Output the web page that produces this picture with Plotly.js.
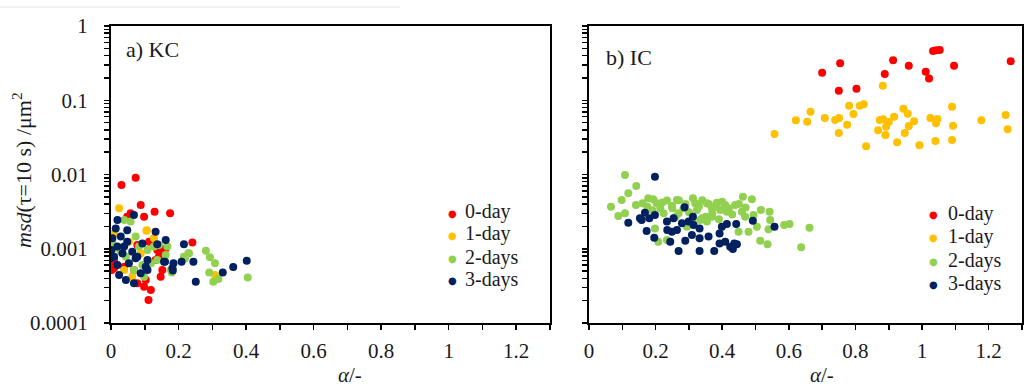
<!DOCTYPE html>
<html>
<head>
<meta charset="utf-8">
<script src="https://cdn.plot.ly/plotly-3.0.1.min.js"></script>
<style>html,body{margin:0;padding:0;background:#fff;}#chart{width:1035px;height:389px;}</style>
</head>
<body>
<div id="chart"></div>
<script>
// ---------- Data ----------
const seriesNames = ["0-day", "1-day", "2-days", "3-days"];
const seriesColors = ["#FF0000", "#FFC000", "#92D050", "#002060"];

// a) KC
const kc_day0_x = [0.031,0.073,0.088,0.129,0.175,0.098,0.058,0.241,0.111,0.118,0.098,0.078,0.009,0.002,0.147,0.152,0.142,0.137,0.162,0.078,0.009,0.039,0.003,0.048,0.113,0.152,0.132,0.068,0.103];
const kc_day0_y = [0.00722,0.00906,0.00388,0.00316,0.00300,0.00270,0.00300,0.00121,0.000204,0.000278,0.000308,0.000342,0.000546,0.000518,0.000421,0.000518,0.000781,0.000962,0.00101,0.00112,0.000705,0.000573,0.000636,0.00270,0.00124,0.000912,0.000705,0.000518,0.000379];

const kc_day1_x = [0.024,0.105,0.002,0.039,0.053,0.003,0.009,0.088,0.127,0.106,0.308,0.034,0.063];
const kc_day1_y = [0.00351,0.00175,0.00124,0.000518,0.00124,0.000824,0.00161,0.000867,0.00138,0.00178,0.000443,0.00101,0.000421];

const kc_day2_x = [0.039,0.058,0.073,0.083,0.004,0.029,0.108,0.127,0.142,0.167,0.162,0.137,0.118,0.093,0.177,0.231,0.216,0.068,0.044,0.009,0.098,0.229,0.219,0.281,0.293,0.308,0.291,0.303,0.318,0.405,0.180];
const kc_day2_y = [0.00244,0.00232,0.00146,0.00107,0.00118,0.000912,0.000962,0.00107,0.00112,0.00107,0.000824,0.000705,0.000636,0.000606,0.000518,0.000867,0.000781,0.000518,0.000781,0.00101,0.000421,0.00087,0.00074,0.00094,0.00077,0.00064,0.00048,0.00036,0.00039,0.00041,0.00048];

const kc_day3_x = [0.019,0.014,0.068,0.048,0.029,0.132,0.162,0.137,0.093,0.048,0.019,0.001,0.034,0.063,0.073,0.009,0.019,0.053,0.103,0.088,0.024,0.044,0.068,0.108,0.157,0.182,0.216,0.244,0.251,0.209,0.185,0.160,0.183,0.331,0.362,0.402,0.078,0.039,0.108,0.004,0.001];
const kc_day3_y = [0.00244,0.00188,0.00285,0.00178,0.00146,0.00170,0.00131,0.00115,0.00118,0.00124,0.00107,0.000962,0.000867,0.000912,0.000742,0.000781,0.000606,0.000636,0.000573,0.000467,0.000443,0.000379,0.000342,0.000518,0.000670,0.000546,0.00115,0.00067,0.00036,0.00067,0.00064,0.00067,0.00051,0.00048,0.00057,0.00069,0.000781,0.00107,0.000705,0.00138,0.00075];

// b) IC
const ic_day0_x = [0.700,0.754,0.750,0.803,0.913,0.888,0.960,1.011,1.021,1.033,1.043,1.053,1.096,1.266];
const ic_day0_y = [0.235,0.315,0.134,0.143,0.345,0.226,0.292,0.242,0.197,0.460,0.470,0.475,0.292,0.334];

const ic_day1_x = [0.557,0.621,0.655,0.665,0.708,0.739,0.751,0.750,0.775,0.781,0.794,0.813,0.825,0.832,0.868,0.873,0.882,0.883,0.890,0.892,0.900,0.916,0.925,0.944,0.948,0.957,0.960,0.976,0.992,1.025,1.040,1.042,1.046,1.090,1.093,1.090,1.178,1.251,1.257];
const ic_day1_y = [0.0351,0.0537,0.0514,0.0701,0.0577,0.0542,0.0577,0.0362,0.0469,0.0845,0.0653,0.0845,0.0881,0.0240,0.0394,0.0542,0.157,0.0553,0.0340,0.0441,0.0509,0.0601,0.0272,0.0769,0.0362,0.0659,0.0450,0.0520,0.0247,0.0577,0.0283,0.0489,0.0559,0.0818,0.0454,0.0292,0.0537,0.0633,0.0406];

const ic_day2_x = [0.108,0.066,0.098,0.118,0.142,0.088,0.108,0.141,0.161,0.178,0.193,0.175,0.203,0.214,0.234,0.249,0.224,0.198,0.208,0.264,0.269,0.284,0.312,0.319,0.324,0.354,0.369,0.384,0.394,0.409,0.414,0.339,0.354,0.369,0.439,0.462,0.459,0.489,0.469,0.494,0.516,0.542,0.544,0.539,0.504,0.479,0.449,0.514,0.536,0.586,0.602,0.662,0.637,0.234,0.334,0.294,0.22,0.25,0.27,0.29,0.30,0.33,0.34,0.36,0.37,0.38,0.40,0.42,0.43,0.45,0.47,0.26,0.19,0.31,0.35,0.39];
const ic_day2_y = [0.00985,0.00369,0.00454,0.00558,0.00700,0.00276,0.00300,0.00388,0.00409,0.00478,0.00463,0.00369,0.00409,0.00351,0.00445,0.00376,0.00300,0.00188,0.00124,0.00454,0.00300,0.00351,0.00478,0.00409,0.00333,0.00409,0.00351,0.00417,0.00333,0.00388,0.00316,0.00257,0.00232,0.00270,0.00388,0.00503,0.00316,0.00463,0.00270,0.00285,0.00333,0.00316,0.00244,0.00183,0.00198,0.00170,0.00170,0.00128,0.00115,0.00209,0.00215,0.00192,0.00105,0.00131,0.00244,0.00198,0.0042,0.0035,0.0045,0.0040,0.0031,0.0037,0.0045,0.0040,0.0030,0.0037,0.0043,0.0035,0.0029,0.0040,0.0036,0.0027,0.0033,0.0024,0.0027,0.0025];

const ic_day3_x = [0.198,0.118,0.153,0.168,0.181,0.198,0.173,0.196,0.234,0.235,0.254,0.249,0.264,0.244,0.269,0.279,0.287,0.289,0.299,0.312,0.314,0.309,0.332,0.332,0.332,0.359,0.376,0.392,0.392,0.399,0.409,0.414,0.424,0.432,0.436,0.444,0.442,0.492,0.557,0.158];
const ic_day3_y = [0.00934,0.00224,0.00257,0.00306,0.00257,0.00285,0.00173,0.00141,0.00232,0.00179,0.00257,0.00170,0.00179,0.00124,0.00093,0.00220,0.00362,0.00128,0.00232,0.00270,0.00209,0.00153,0.00188,0.00138,0.00093,0.00146,0.00093,0.00161,0.00118,0.00198,0.00124,0.00215,0.00106,0.00099,0.00118,0.00115,0.00215,0.00239,0.00198,0.00244];

const yTickLabels = ["0.0001", "0.001", "0.01", "0.1", "1"];
const xTitleText = "<i>α</i>/-";
const yTitleText = "<i>msd</i>(τ=10 s) /μm<sup>2</sup>";
const panelLabels = ["a) KC", "b) IC"];

// ---------- Layout helpers ----------
const W = 1035, H = 389;
const FONT = "'Liberation Serif', 'Times New Roman', Times, serif";
const TXT = "#1a1a1a";
const px = v => v / W;
const py = v => 1 - v / H;

const logTickVals = [], logTickText = [];
for (let e = -4; e <= 0; e++) {
  for (let m = 1; m <= 9; m++) {
    if (e === 0 && m > 1) break;
    logTickVals.push(m * Math.pow(10, e));
    logTickText.push(m === 1 ? yTickLabels[e + 4] : "");
  }
}

const kcX = [kc_day0_x, kc_day1_x, kc_day2_x, kc_day3_x];
const kcY = [kc_day0_y, kc_day1_y, kc_day2_y, kc_day3_y];
const icX = [ic_day0_x, ic_day1_x, ic_day2_x, ic_day3_x];
const icY = [ic_day0_y, ic_day1_y, ic_day2_y, ic_day3_y];

const traces = [];
for (let i = 0; i < 4; i++) {
  traces.push({x: kcX[i], y: kcY[i], type: "scatter", mode: "markers", name: seriesNames[i],
    marker: {color: seriesColors[i], size: 8}, xaxis: "x", yaxis: "y", showlegend: false});
}
for (let i = 0; i < 4; i++) {
  traces.push({x: icX[i], y: icY[i], type: "scatter", mode: "markers", name: seriesNames[i],
    marker: {color: seriesColors[i], size: 8}, xaxis: "x2", yaxis: "y2", showlegend: false});
}

const xCommon = {range: [0, 1.3], dtick: 0.2, tick0: 0, ticks: "outside", ticklen: 5, tickwidth: 1.5, tickcolor: "#000",
  minor: {dtick: 0.1, ticks: "outside", ticklen: 5, tickwidth: 1.5, tickcolor: "#000"},
  showline: true, linecolor: "#000", linewidth: 2, mirror: true, showgrid: false, zeroline: false,
  tickfont: {family: FONT, size: 21, color: TXT}, ticklabelstandoff: 3, fixedrange: true};
const yCommon = {type: "log", range: [-4, 0], tickmode: "array", tickvals: logTickVals, ticktext: logTickText,
  ticks: "outside", ticklen: 5, tickwidth: 1.5, tickcolor: "#000",
  showline: true, linecolor: "#000", linewidth: 2, mirror: true, showgrid: false, zeroline: false,
  tickfont: {family: FONT, size: 21, color: TXT}, ticklabelstandoff: 12, fixedrange: true};

// legend entries drawn as annotations (bullet + label)
const legendLeft = {mx: 452, tx: 463, ys: [212, 234, 257, 279]};
const legendRight = {mx: 933, tx: 946, ys: [213, 236, 260, 283]};
const legendAnn = [];
[legendLeft, legendRight].forEach(L => {
  for (let i = 0; i < 4; i++) {
    legendAnn.push({text: "●", xref: "paper", yref: "paper", x: px(L.mx), y: py(L.ys[i] + 1), xanchor: "center", yanchor: "middle",
      showarrow: false, font: {family: "DejaVu Sans", size: 10, color: seriesColors[i]}});
    legendAnn.push({text: seriesNames[i], xref: "paper", yref: "paper", x: px(L.tx), y: py(L.ys[i]), xanchor: "left", yanchor: "middle",
      showarrow: false, font: {family: FONT, size: 20, color: TXT}});
  }
});

const yDomain = [py(323), py(26)];
const layout = {
  width: W, height: H, margin: {l: 0, r: 0, t: 0, b: 0},
  paper_bgcolor: "#fff", plot_bgcolor: "#fff", font: {family: FONT, size: 20, color: TXT},
  showlegend: false,
  xaxis: Object.assign({}, xCommon, {domain: [px(111), px(550)], anchor: "y"}),
  yaxis: Object.assign({}, yCommon, {domain: yDomain, anchor: "x"}),
  xaxis2: Object.assign({}, xCommon, {domain: [px(589), px(1022)], anchor: "y2"}),
  yaxis2: Object.assign({}, yCommon, {domain: yDomain, anchor: "x2", showticklabels: false}),
  annotations: [
    {text: panelLabels[0], xref: "paper", yref: "paper", x: px(124), y: py(50), xanchor: "left", yanchor: "middle", showarrow: false, font: {family: FONT, size: 22, color: TXT}},
    {text: panelLabels[1], xref: "paper", yref: "paper", x: px(604), y: py(57), xanchor: "left", yanchor: "middle", showarrow: false, font: {family: FONT, size: 22, color: TXT}},
    {text: xTitleText, xref: "paper", yref: "paper", x: px(350), y: py(388), xanchor: "center", yanchor: "bottom", borderpad: 0, showarrow: false, font: {family: FONT, size: 21, color: TXT}},
    {text: xTitleText, xref: "paper", yref: "paper", x: px(822), y: py(388), xanchor: "center", yanchor: "bottom", borderpad: 0, showarrow: false, font: {family: FONT, size: 21, color: TXT}},
    {text: yTitleText, xref: "paper", yref: "paper", x: px(22), y: py(170), xanchor: "center", yanchor: "middle", textangle: -90, showarrow: false, font: {family: FONT, size: 22, color: TXT}}
  ].concat(legendAnn),
  shapes: [
    {type: "line", xref: "paper", yref: "paper", x0: 0, x1: px(400), y0: py(7), y1: py(7), line: {color: "#e3e3e3", width: 1}}
  ]
};

Plotly.newPlot("chart", traces, layout, {displayModeBar: false, staticPlot: true});
</script>
</body>
</html>
